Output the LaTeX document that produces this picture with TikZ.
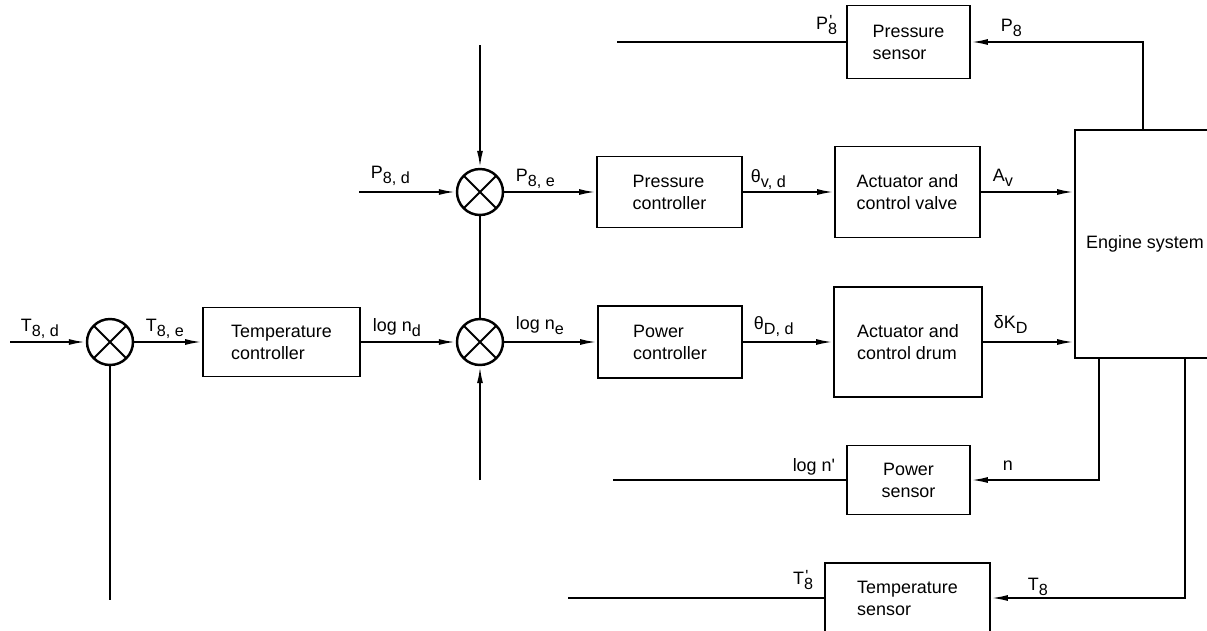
\documentclass[tikz,border=0pt]{standalone}
\usepackage{fontspec}
\setmainfont{Liberation Sans}
\usetikzlibrary{arrows.meta, positioning}
\newcommand{\dn}[1]{\raisebox{-0.55ex}{\fontsize{9.2pt}{10pt}\selectfont #1}}
\newcommand{\updn}[2]{\rlap{\raisebox{0.25ex}{\fontsize{9.2pt}{10pt}\selectfont\hspace{0.08em}#2}}\dn{#1}}

\begin{document}
\begin{tikzpicture}[x=0.02cm, y=-0.02cm, line width=1.1pt, font=\fontsize{10.2pt}{12.5pt}\selectfont, >={Latex[length=0.34cm,width=0.12cm]},
  blk/.style={draw, line width=1.1pt, align=left, inner sep=2pt},
  sumj/.style={draw, circle, line width=1.4pt, minimum size=0.92cm, inner sep=0pt, path picture={\draw[line width=1.1pt] (path picture bounding box.north west) -- (path picture bounding box.south east) (path picture bounding box.north east) -- (path picture bounding box.south west);}},
  lbl/.style={inner sep=0pt}]
\useasboundingbox (0,0) rectangle (1207,630);
\node[sumj] (sumT) at (110,342) {};
\node[blk, minimum width=3.14cm, minimum height=1.38cm] (tc) at (281.5,342) {Temperature\\controller};
\node[sumj] (sumN) at (480,342) {};
\node[sumj] (sumP) at (480,192) {};
\node[blk, minimum width=2.9cm, minimum height=1.42cm] (pc) at (669.5,192) {Pressure\\controller};
\node[blk, minimum width=2.88cm, minimum height=1.44cm] (pwc) at (670,342) {Power\\controller};
\node[blk, minimum width=2.9cm, minimum height=1.82cm] (acv) at (907.5,192) {Actuator and\\control valve};
\node[blk, minimum width=2.96cm, minimum height=2.2cm] (acd) at (908,342) {Actuator and\\control drum};
\node[blk, minimum width=2.8cm, minimum height=4.56cm] (es) at (1145,244) {Engine system};
\node[blk, minimum width=2.46cm, minimum height=1.46cm] (ps) at (908.5,42) {Pressure\\sensor};
\node[blk, align=center, minimum width=2.46cm, minimum height=1.38cm] (pws) at (908.5,480) {Power\\sensor};
\node[blk, minimum width=3.3cm, minimum height=1.4cm] (ts) at (907.5,598) {Temperature\\sensor};

\coordinate (tin) at (10,342);
\coordinate (pin) at (359,192);
\coordinate (ptop) at (480,45);
\coordinate (pend) at (617,42);
\coordinate (nbot) at (480,480);
\coordinate (nend) at (613,480);
\coordinate (tend) at (568,598);
\coordinate (tbot) at (110,600);

\draw[->] (tin) -- (sumT);
\draw[->] (sumT) -- (tc);
\draw[->] (tc) -- (sumN);
\draw[->] (pin) -- (sumP);
\draw[->] (ptop) -- (sumP);
\draw (sumP) -- (sumN);
\draw[->] (nbot) -- (sumN);
\draw (sumT) -- (tbot);
\draw[->] (sumP) -- (pc);
\draw[->] (pc) -- (acv);
\draw[->] (acv) -- (acv.east -| es.west);
\draw[->] (sumN) -- (pwc);
\draw[->] (pwc) -- (acd);
\draw[->] (acd) -- (acd.east -| es.west);
\draw[->] ([xshift=-0.04cm]es.north) |- (ps);
\draw[->] ([xshift=-0.92cm]es.south) |- (pws);
\draw[->] ([xshift=0.8cm]es.south) |- (ts);
\draw (ps) -- (pend);
\draw (pws) -- (nend);
\draw (ts) -- (tend);

\node[lbl, anchor=base west] (lTd) at (20,331) {T\dn{8, d}};
\node[lbl, anchor=base west] (lTe) at (145,331) {T\dn{8, e}};
\node[lbl, anchor=base west] (lnd) at (372,331) {log n\dn{d}};
\node[lbl, anchor=base west] (lne) at (515,329) {log n\dn{e}};
\node[lbl, anchor=base west] (lPd) at (370,178) {P\dn{8, d}};
\node[lbl, anchor=base west] (lPe) at (515,181) {P\dn{8, e}};
\node[lbl, anchor=base west] (ltv) at (750,182) {θ\dn{v, d}};
\node[lbl, anchor=base west] (ltD) at (753,329) {θ\dn{D, d}};
\node[lbl, anchor=base west] (lAv) at (992,181) {A\dn{v}};
\node[lbl, anchor=base west] (lKD) at (993,328) {δK\dn{D}};
\node[lbl, anchor=base west] (lP8) at (1000,31) {P\dn{8}};
\node[lbl, anchor=base east] (lP8p) at (838,29) {P\updn{8}{\textquotesingle}};
\node[lbl, anchor=base west] (ln) at (1002,470) {n};
\node[lbl, anchor=base east] (lnp) at (836,471) {log n\textquotesingle};
\node[lbl, anchor=base west] (lT8) at (1027,590) {T\dn{8}};
\node[lbl, anchor=base east] (lT8p) at (814,584) {T\updn{8}{\textquotesingle}};
\end{tikzpicture}
\end{document}
